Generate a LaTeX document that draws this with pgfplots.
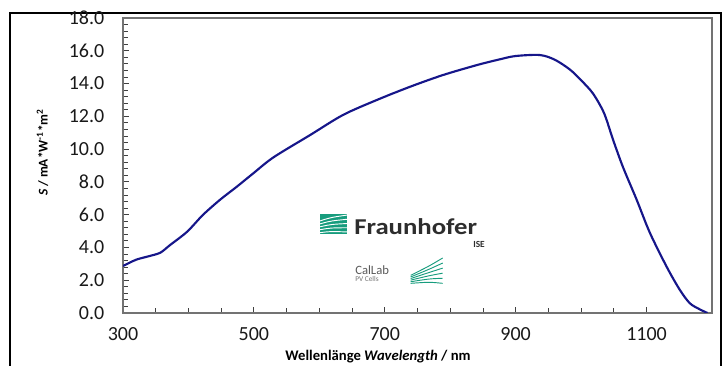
\documentclass[border=0pt]{standalone}
\usepackage{fontspec}
\setmainfont{Carlito}
\usepackage{pgfplots}
\pgfplotsset{compat=1.18}
\definecolor{curve}{RGB}{22,22,138}
\definecolor{fhgreen}{RGB}{23,156,125}
\definecolor{logotext}{RGB}{45,45,45}
\begin{document}
\begin{tikzpicture}
\useasboundingbox (0pt,0pt) rectangle (543pt,274.5pt);
% outer frame
\draw[black, line width=1.6pt] (7.5pt,-2pt) -- (7.5pt,264.75pt) -- (540.75pt,264.75pt) -- (540.75pt,-2pt);
\begin{axis}[
  scale only axis,
  width=441.75pt, height=221.25pt,
  at={(92.25pt,39.75pt)}, anchor=south west,
  xmin=300, xmax=1200, ymin=0, ymax=18,
  xtick={300,500,700,900,1100},
  minor x tick num=3,
  ytick={0,2,...,18},
  minor y tick num=4,
  tick align=inside,
  tick pos=left,
  major tick length=4.5pt, minor tick length=4pt,
  tick style={black!75, line width=0.6pt},
  axis line style={draw=black!55, line width=0.9pt},
  ticklabel style={font=\fontsize{15}{16}\selectfont, text=black!90},
  /pgf/number format/assume math mode=true,
  yticklabel style={/pgf/number format/.cd, fixed, fixed zerofill, precision=1, /tikz/.cd, xshift=-10.5pt},
  xticklabel style={/pgf/number format/1000 sep={}, yshift=-7pt},
  xlabel={\textbf{Wellenlänge \textit{Wavelength} / nm}},
  xlabel style={at={(axis description cs:0.433,-0.149)}, anchor=center, font=\fontsize{11}{13}\selectfont},
  ylabel={\textbf{\textit{S} / mA*W\textsuperscript{-1}*m\textsuperscript{2}}},
  ylabel style={at={(axis description cs:-0.1367,0.544)}, anchor=center, rotate=0, font=\fontsize{10}{12}\selectfont},
]
\addplot[curve, line width=1.6pt, smooth, tension=0.5] table {
x y
300 2.87
320 3.25
340 3.47
357 3.68
372 4.15
398 4.96
422 5.98
448 6.9
474 7.71
499 8.52
530 9.5
586 10.86
636 12.08
688 13.0
739 13.81
789 14.52
841 15.13
876 15.48
900 15.68
937 15.74
960 15.45
983 14.85
1000 14.2
1018 13.4
1035 12.2
1049 10.55
1064 8.9
1085 6.9
1105 4.9
1131 2.8
1151 1.4
1166 0.6
1180 0.25
1193 0.0
};
\end{axis}
% Fraunhofer logo
\fill[fhgreen] (240pt,99pt) rectangle (260.25pt,114pt);
\begin{scope}
\clip (240pt,99pt) rectangle (260.25pt,114pt);
\foreach \a in {0,1,2,3,4} {
  \draw[white, line width=0.7pt] (240pt,{100pt+2.2pt*\a}) .. controls (248pt,{101pt+2.6pt*\a}) .. (261pt,{100.5pt+3.2pt*\a});
}
\end{scope}
\node[anchor=west, inner sep=0pt, text=logotext, font=\fontsize{17}{17}\selectfont\bfseries, xscale=1.18] at (265.5pt,104.6pt) {Fraunhofer};
\node[anchor=east, inner sep=0pt, text=logotext, font=\fontsize{7}{7}\selectfont\bfseries] at (363.75pt,91.3pt) {ISE};
\node[anchor=west, inner sep=0pt, text=black!65, font=\fontsize{9.5}{10}\selectfont] at (266.25pt,71.8pt) {CalLab};
\node[anchor=west, inner sep=0pt, text=black!55, font=\fontsize{5.5}{6}\selectfont] at (266.25pt,65pt) {PV Cells};
\foreach \a in {0,1,2,3,4,5} {
  \draw[fhgreen, line width=0.7pt] (308pt,{62pt+1.2pt*\a}) .. controls (322pt,{63pt+2.4pt*\a}) .. (332pt,{62pt+3.8pt*\a});
}
\end{tikzpicture}
\end{document}
